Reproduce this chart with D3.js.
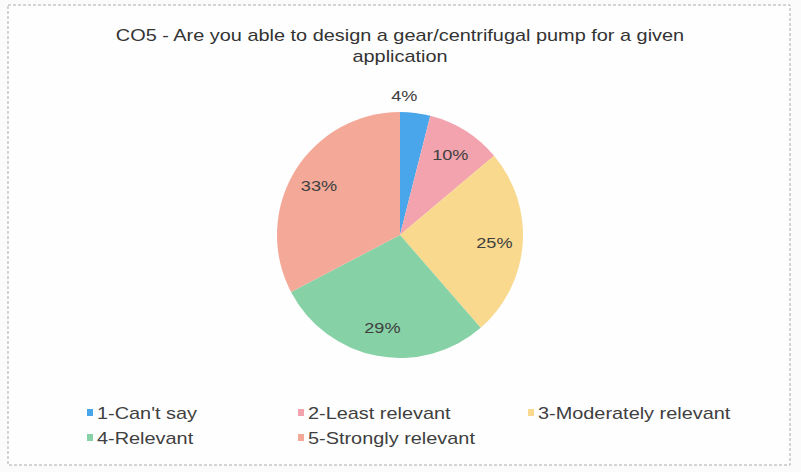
<!DOCTYPE html>
<html><head><meta charset="utf-8">
<script src="https://cdn.jsdelivr.net/npm/d3@7"></script>
<style>body{margin:0;background:#fff}svg{display:block}</style>
</head><body>
<svg id="c" width="801" height="472"></svg>
<script>
const categories = ["1-Can't say","2-Least relevant","3-Moderately relevant","4-Relevant","5-Strongly relevant"];
const values = [4, 10, 25, 29, 33];
const colors = ["#4aa6ea","#f2a3ad","#f8d98e","#86d1a6","#f4a898"];
const titleLines = ["CO5 - Are you able to design a gear/centrifugal pump for a given","application"];

const FONT = "Liberation Sans, Arial, sans-serif";
const SX = 1.17; // horizontal stretch of the scanned text
const svg = d3.select("#c");
const W = 801, H = 472;
svg.append("rect").attr("width",W).attr("height",H).attr("fill","#fbfbfb");
svg.append("rect").attr("x",8).attr("y",5).attr("width",782).attr("height",460)
  .attr("fill","#fefefe").attr("stroke","#aaa").attr("stroke-width",1).attr("stroke-dasharray","3,2");

svg.append("g").selectAll("text").data(titleLines).join("text")
  .attr("transform",(d,i)=>`translate(400,${41+i*21}) scale(${SX},1)`).attr("text-anchor","middle")
  .attr("font-family",FONT).attr("font-size",17).attr("fill","#333")
  .text(d=>d);

const cx = 400, cy = 235, R = 123;
const pie = d3.pie().sort(null).value(d=>d)(values);
const arc = d3.arc().innerRadius(0).outerRadius(R);
const g = svg.append("g").attr("transform",`translate(${cx},${cy})`);
g.selectAll("path").data(pie).join("path").attr("d",arc).attr("fill",(d,i)=>colors[i]);

const inner = d3.arc().innerRadius(R*0.77).outerRadius(R*0.77);
const outer = d3.arc().innerRadius(R+18).outerRadius(R+18);
g.selectAll("text").data(pie).join("text")
  .attr("transform",(d,i)=>{
    const p = i===0 ? outer.centroid(d) : inner.centroid(d);
    return `translate(${p}) scale(${SX},1)`;
  })
  .attr("text-anchor",(d,i)=> i===0 ? "end" : "middle").attr("dy","0.35em")
  .attr("font-family",FONT).attr("font-size",15.5).attr("fill","#404040")
  .text(d=>d.data+"%");

const legX = [87, 298, 528], legY = [413, 438];
const leg = svg.append("g").selectAll("g").data(categories).join("g")
  .attr("transform",(d,i)=>`translate(${legX[i%3]},${legY[Math.floor(i/3)]})`);
leg.append("rect").attr("x",0).attr("y",-4).attr("width",6).attr("height",7).attr("fill",(d,i)=>colors[i]);
leg.append("text").attr("transform",`translate(10,0) scale(${SX},1)`).attr("dy","0.35em")
  .attr("font-family",FONT).attr("font-size",17).attr("fill","#404040")
  .text(d=>d);
</script>
</body></html>
